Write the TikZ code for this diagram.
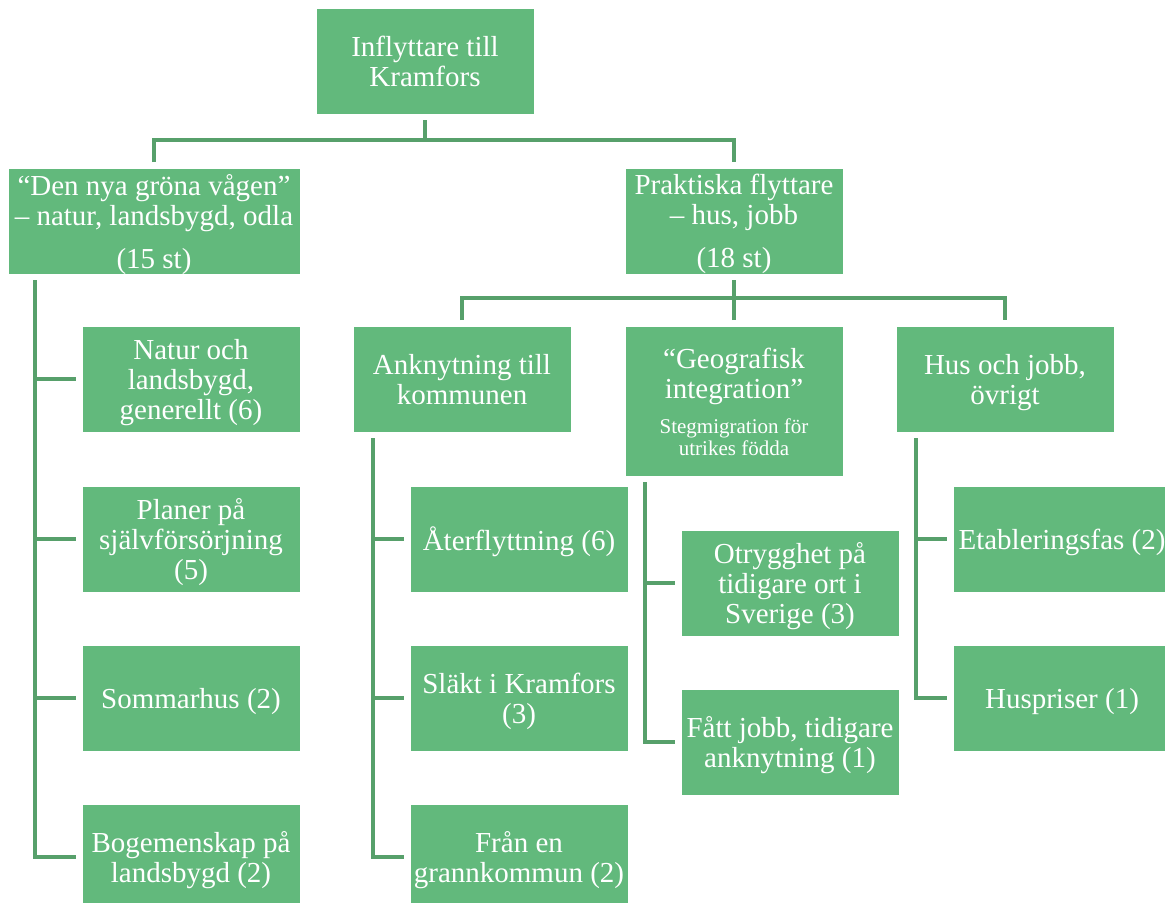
\documentclass[tikz,border=0pt]{standalone}
\usepackage{fontspec}
\setmainfont{Liberation Serif}
\definecolor{boxgreen}{HTML}{62B97C}
\definecolor{linegreen}{HTML}{57A06B}
\newcommand\bigfs{\fontsize{21.75pt}{22.5pt}\selectfont}
\newcommand\smallfs{\fontsize{15.75pt}{16.5pt}\selectfont}
\tikzset{
  box/.style={rectangle, fill=boxgreen, draw=white, line width=0.6pt, text=white,
    align=center, inner sep=0pt, outer sep=4.5pt, minimum width=163.5pt,
    minimum height=79.5pt, font=\bigfs, text depth=0pt},
  plain/.style={text=white, align=center, inner sep=0pt},
  conn/.style={draw=linegreen, line width=3.6pt}
}
\begin{document}
\begin{tikzpicture}[x=0.75pt,y=-0.75pt]
\useasboundingbox (0,0) rectangle (1165,903);
% level 0
\node[box] (root) at (425,61) {Inflyttare till\\Kramfors};
% level 1
\node[box, minimum width=219pt] (den) at (154,221) {“Den nya gröna vågen”\\– natur, landsbygd, odla\\[9.75pt](15 st)};
\node[box] (prak) at (734,221) {Praktiska flyttare\\– hus, jobb\\[9.75pt](18 st)};
% left children
\node[box] (n1) at (191,379) {Natur och\\landsbygd,\\generellt (6)};
\node[box] (n2) at (191,539) {Planer på\\självförsörjning\\(5)};
\node[box] (n3) at (191,698) {Sommarhus (2)};
\node[box] (n4) at (191,857) {Bogemenskap på\\landsbygd (2)};
% level 2
\node[box] (ank) at (462,379) {Anknytning till\\kommunen};
\node[box, minimum height=112.5pt] (geo) at (734,401) {};
\node[plain, font=\bigfs] (geot) at (734,376) {“Geografisk\\integration”};
\node[plain, font=\smallfs] (geos) at (734,437) {Stegmigration för\\utrikes födda};
\node[box] (hus) at (1005,379) {Hus och jobb,\\övrigt};
% children of ank
\node[box] (a1) at (519,539) {Återflyttning (6)};
\node[box] (a2) at (519,698) {Släkt i Kramfors\\(3)};
\node[box] (a3) at (519,857) {Från en\\grannkommun (2)};
% children of geo
\node[box] (g1) at (790,583) {Otrygghet på\\tidigare ort i\\Sverige (3)};
\node[box] (g2) at (790,742) {Fått jobb, tidigare\\anknytning (1)};
% children of hus
\node[box] (h1) at (1062,539) {Etableringsfas (2)};
\node[box] (h2) at (1062,698) {Huspriser (1)};
% connectors
\coordinate (b1) at (425,140);
\draw[conn] (root.south) -- (root.south |- b1);
\draw[conn] (den.north) |- (b1) -| (prak.north);
\coordinate (b2) at (734,298);
\draw[conn] (prak.south) -- (prak.south |- b2);
\draw[conn] (ank.north) |- (b2) -| (hus.north);
\draw[conn] (geo.north) -- (geo.north |- b2);
% left tree
\coordinate (lx) at (35,0);
\draw[conn] (den.south -| lx) |- (n4.west);
\draw[conn] (n1.west -| lx) -- (n1.west);
\draw[conn] (n2.west -| lx) -- (n2.west);
\draw[conn] (n3.west -| lx) -- (n3.west);
% ank tree
\coordinate (ax) at (373,0);
\draw[conn] (ank.south -| ax) |- (a3.west);
\draw[conn] (a1.west -| ax) -- (a1.west);
\draw[conn] (a2.west -| ax) -- (a2.west);
% geo tree
\coordinate (gx) at (645,0);
\draw[conn] (geo.south -| gx) |- (g2.west);
\draw[conn] (g1.west -| gx) -- (g1.west);
% hus tree
\coordinate (hx) at (916,0);
\draw[conn] (hus.south -| hx) |- (h2.west);
\draw[conn] (h1.west -| hx) -- (h1.west);
\end{tikzpicture}
\end{document}
